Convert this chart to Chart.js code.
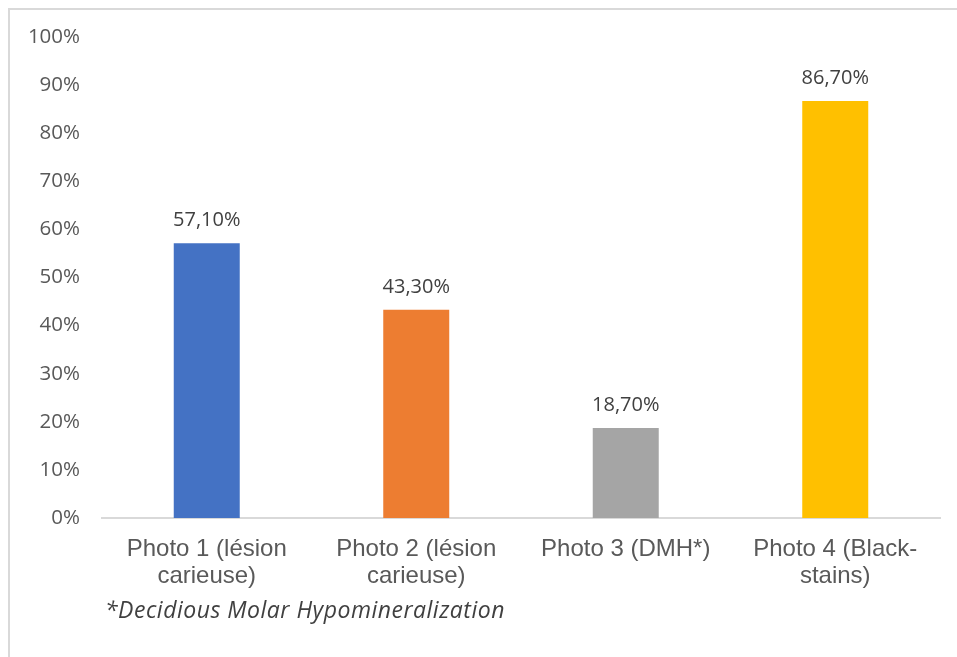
<!DOCTYPE html>
<html>
<head>
<meta charset="utf-8">
<script src="https://cdn.jsdelivr.net/npm/chart.js@4"></script>
<style>
    html, body { margin: 0; padding: 0; background: #ffffff; }
    #wrap { position: relative; width: 957px; height: 657px; }
    #frame {
        position: absolute; left: 8px; top: 8px; right: 0; bottom: 0;
        border-top: 2px solid #d9d9d9; border-left: 2px solid #d9d9d9;
    }
    canvas { position: absolute; left: 0; top: 0; }
</style>
</head>
<body>
<div id="wrap">
    <div id="frame"></div>
    <canvas id="chart" width="957" height="657"></canvas>
</div>
<script>
// Categories and values
const categories = [
    ['Photo 1 (lésion', 'carieuse)'],
    ['Photo 2 (lésion', 'carieuse)'],
    ['Photo 3 (DMH*)'],
    ['Photo 4 (Black-', 'stains)']
];
const values = [57.1, 43.3, 18.7, 86.7];
const barColors = ['#4472C4', '#ED7D31', '#A5A5A5', '#FFC000'];
const yTicks = [0, 10, 20, 30, 40, 50, 60, 70, 80, 90, 100];
const footnote = '*Decidious Molar Hypomineralization';

const textColor = '#595959';
const labelColor = '#404040';

// Draws the value above each bar, French style decimal comma
const valueLabels = {
    id: 'valueLabels',
    afterDatasetsDraw(chart) {
        const ctx = chart.ctx;
        const meta = chart.getDatasetMeta(0);
        ctx.save();
        ctx.font = '20px "Open Sans"';
        ctx.fillStyle = labelColor;
        ctx.textAlign = 'center';
        ctx.textBaseline = 'alphabetic';
        meta.data.forEach((bar, i) => {
            const txt = values[i].toFixed(2).replace('.', ',') + '%';
            ctx.fillText(txt, bar.x, bar.y - 17);
        });
        ctx.restore();
    }
};

// Footnote under the axis labels
const footnotePlugin = {
    id: 'footnote',
    afterDraw(chart) {
        const ctx = chart.ctx;
        ctx.save();
        ctx.font = 'italic 23px "Open Sans"';
        ctx.letterSpacing = '0.5px';
        ctx.fillStyle = labelColor;
        ctx.textAlign = 'left';
        ctx.fillText(footnote, 105, 618);
        ctx.restore();
    }
};

new Chart(document.getElementById('chart'), {
    type: 'bar',
    data: {
        labels: categories,
        datasets: [{
            data: values,
            backgroundColor: barColors,
            barPercentage: 0.315,
            categoryPercentage: 1
        }]
    },
    options: {
        responsive: false,
        animation: false,
        layout: {
            padding: { left: 0, right: 17, top: 37, bottom: 0 }
        },
        plugins: {
            legend: { display: false },
            tooltip: { enabled: false }
        },
        scales: {
            x: {
                afterFit(scale) {
                    scale.paddingLeft = 0;
                    scale.paddingRight = 0;
                    scale.height = 139;
                },
                grid: { display: false },
                border: { display: true, color: '#d9d9d9', width: 2 },
                ticks: {
                    color: textColor,
                    font: { family: 'Liberation Sans', size: 24, lineHeight: 1.13 },
                    padding: 10,
                    maxRotation: 0,
                    autoSkip: false
                }
            },
            y: {
                min: 0,
                max: 100,
                afterBuildTicks(scale) {
                    scale.ticks = yTicks.map(v => ({ value: v }));
                },
                afterFit(scale) {
                    scale.width = 102;
                    scale.paddingTop = 0;
                    scale.paddingBottom = 0;
                },
                grid: { display: false },
                border: { display: false },
                ticks: {
                    color: textColor,
                    font: { family: 'Open Sans', size: 20.5 },
                    padding: 14,
                    callback: v => v + '%'
                }
            }
        }
    },
    plugins: [valueLabels, footnotePlugin]
});
</script>
</body>
</html>
